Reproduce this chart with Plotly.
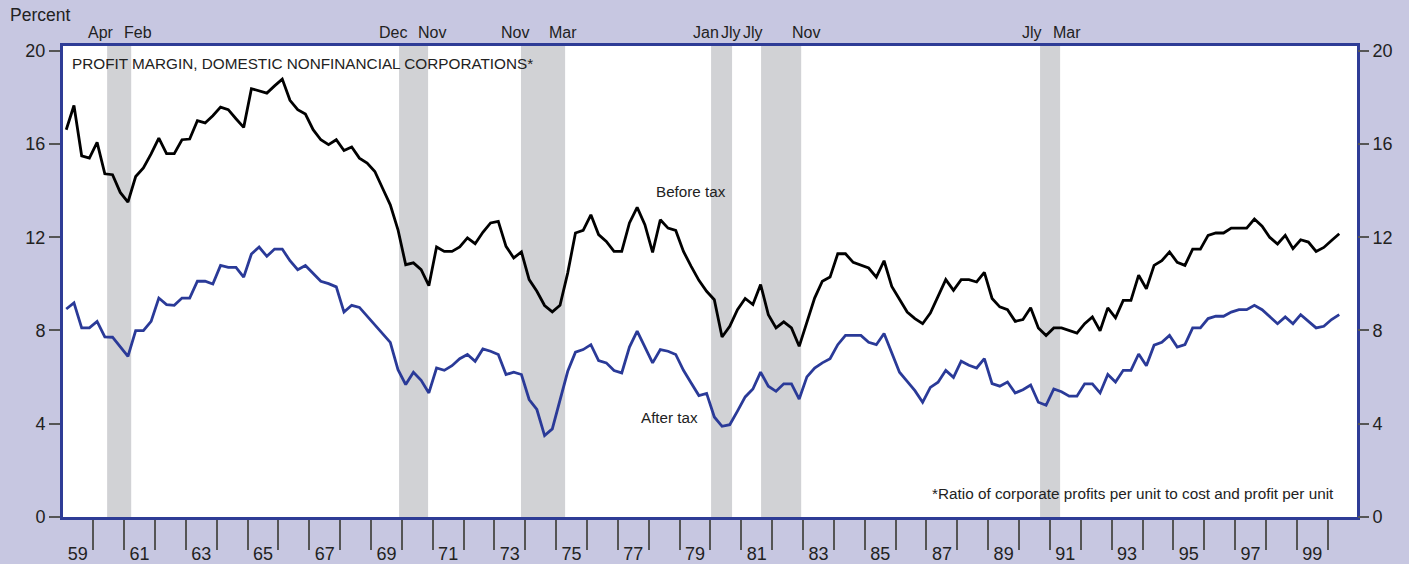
import plotly.graph_objects as go

# ---------------- data (quarterly, 1959Q1 - 2000Q2) ----------------
start_year = 1959
before_tax = [
    16.61, 17.65, 15.49, 15.39, 16.07, 14.72, 14.68, 13.92, 13.50, 14.60,
    14.97, 15.57, 16.25, 15.58, 15.58, 16.18, 16.21, 17.00, 16.90, 17.21,
    17.58, 17.47, 17.08, 16.71, 18.37, 18.29, 18.18, 18.49, 18.78, 17.87,
    17.47, 17.28, 16.61, 16.18, 15.97, 16.18, 15.72, 15.87, 15.39, 15.18,
    14.82, 14.10, 13.39, 12.32, 10.82, 10.90, 10.61, 9.92, 11.58, 11.39,
    11.39, 11.58, 11.97, 11.72, 12.21, 12.61, 12.68, 11.61, 11.11, 11.37,
    10.18, 9.68, 9.07, 8.80, 9.08, 10.47, 12.18, 12.29, 12.96, 12.11,
    11.82, 11.39, 11.39, 12.61, 13.28, 12.54, 11.35, 12.75, 12.39, 12.29,
    11.39, 10.75, 10.15, 9.68, 9.32, 7.72, 8.18, 8.89, 9.37, 9.11,
    9.97, 8.68, 8.11, 8.37, 8.11, 7.32, 8.39, 9.39, 10.11, 10.29,
    11.29, 11.29, 10.92, 10.79, 10.68, 10.29, 10.99, 9.89, 9.32, 8.79,
    8.51, 8.29, 8.75, 9.44, 10.18, 9.72, 10.18, 10.18, 10.08, 10.49,
    9.37, 9.01, 8.89, 8.39, 8.47, 8.97, 8.11, 7.78, 8.11, 8.11,
    8.01, 7.89, 8.29, 8.58, 7.99, 8.97, 8.54, 9.29, 9.29, 10.37,
    9.79, 10.79, 10.99, 11.37, 10.92, 10.79, 11.49, 11.49, 12.08, 12.18,
    12.18, 12.39, 12.39, 12.39, 12.78, 12.47, 11.99, 11.71, 12.08, 11.51,
    11.89, 11.79, 11.39, 11.56, 11.86, 12.15,
]
after_tax = [
    8.92, 9.18, 8.11, 8.11, 8.39, 7.72, 7.71, 7.29, 6.89, 7.99,
    7.99, 8.39, 9.39, 9.11, 9.08, 9.39, 9.39, 10.11, 10.11, 9.99,
    10.79, 10.71, 10.71, 10.29, 11.28, 11.58, 11.18, 11.49, 11.49, 10.99,
    10.61, 10.79, 10.47, 10.11, 10.01, 9.87, 8.79, 9.08, 8.99, 8.61,
    8.25, 7.87, 7.49, 6.32, 5.68, 6.21, 5.86, 5.32, 6.39, 6.29,
    6.49, 6.79, 6.97, 6.68, 7.21, 7.11, 6.97, 6.11, 6.21, 6.11,
    5.04, 4.61, 3.49, 3.78, 5.04, 6.25, 7.07, 7.18, 7.39, 6.71,
    6.61, 6.28, 6.18, 7.29, 7.97, 7.32, 6.61, 7.18, 7.11, 6.97,
    6.29, 5.75, 5.21, 5.30, 4.29, 3.89, 3.96, 4.54, 5.15, 5.49,
    6.21, 5.61, 5.39, 5.71, 5.71, 5.06, 6.01, 6.39, 6.61, 6.79,
    7.39, 7.79, 7.79, 7.79, 7.49, 7.39, 7.87, 7.01, 6.21, 5.82,
    5.42, 4.92, 5.56, 5.78, 6.29, 5.99, 6.68, 6.51, 6.39, 6.79,
    5.72, 5.61, 5.79, 5.32, 5.46, 5.66, 4.92, 4.79, 5.49, 5.37,
    5.18, 5.18, 5.71, 5.71, 5.32, 6.11, 5.79, 6.29, 6.29, 6.99,
    6.49, 7.37, 7.49, 7.79, 7.29, 7.39, 8.11, 8.11, 8.51, 8.61,
    8.61, 8.79, 8.89, 8.89, 9.08, 8.89, 8.61, 8.29, 8.58, 8.29,
    8.68, 8.39, 8.11, 8.18, 8.47, 8.68,
]

# recession shading (decimal years) and their month labels
rec_start = [1960.45, 1969.91, 1973.86, 1980.02, 1981.64, 1990.68]
rec_end = [1961.23, 1970.85, 1975.29, 1980.70, 1982.94, 1991.33]
rec_start_label = ["Apr", "Dec", "Nov", "Jan", "Jly", "Jly"]
rec_end_label = ["Feb", "Nov", "Mar", "Jly", "Nov", "Mar"]
# label centres (decimal years)
rec_start_label_x = [1960.24, 1969.72, 1973.67, 1979.86, 1981.38, 1990.41]
rec_end_label_x = [1961.46, 1970.98, 1975.23, 1980.67, 1983.10, 1991.55]

year_ticks = list(range(1960, 2001))
label_years = list(range(1959, 2000, 2))
label_text = [f"{y % 100:02d}" for y in label_years]
y_ticks = [0, 4, 8, 12, 16, 20]

# ---------------- styling ----------------
BG = "#C7C7E1"
BORDER = "#2E3C96"
BLUE = "#2A3A98"
SHADE = "#D1D2D5"
TICK = "#555555"
TXT = "#222222"
FONT = "Liberation Sans, Arial, sans-serif"

x_vals = [start_year + (i + 0.5) / 4 for i in range(len(before_tax))]

fig = go.Figure()
fig.add_trace(go.Scatter(x=x_vals, y=before_tax, mode="lines",
                         line=dict(color="black", width=2.8),
                         hoverinfo="skip", showlegend=False))
fig.add_trace(go.Scatter(x=x_vals, y=after_tax, mode="lines",
                         line=dict(color=BLUE, width=2.8),
                         hoverinfo="skip", showlegend=False))
# invisible trace to activate the right-hand axis
fig.add_trace(go.Scatter(x=[x_vals[0]], y=[before_tax[0]], yaxis="y2", mode="lines",
                         line=dict(width=0), hoverinfo="skip", showlegend=False))

shapes = []
for s, e in zip(rec_start, rec_end):
    shapes.append(dict(type="rect", xref="x", yref="paper", x0=s, x1=e, y0=0, y1=1,
                       fillcolor=SHADE, line=dict(width=0), layer="below"))

annotations = []
for lx, lt in list(zip(rec_start_label_x, rec_start_label)) + list(zip(rec_end_label_x, rec_end_label)):
    annotations.append(dict(x=lx, y=1, xref="x", yref="paper", text=lt, showarrow=False,
                            xanchor="center", yanchor="middle", yshift=14,
                            font=dict(family=FONT, size=16, color=TXT)))
annotations.append(dict(x=0, y=1, xref="paper", yref="paper", text="Percent", showarrow=False,
                        xanchor="left", yanchor="middle", xshift=-55, yshift=31,
                        font=dict(family=FONT, size=17.5, color=TXT)))
annotations.append(dict(x=0, y=1, xref="paper", yref="paper",
                        text="PROFIT MARGIN, DOMESTIC NONFINANCIAL CORPORATIONS*",
                        showarrow=False, xanchor="left", yanchor="middle", xshift=7, yshift=-17,
                        font=dict(family=FONT, size=15.3, color=TXT)))
annotations.append(dict(x=0, y=0, xref="paper", yref="paper",
                        text="*Ratio of corporate profits per unit to cost and profit per unit",
                        showarrow=False, xanchor="left", yanchor="middle", xshift=867, yshift=24,
                        font=dict(family=FONT, size=15.3, color=TXT)))
annotations.append(dict(x=0, y=1, xref="paper", yref="paper", text="Before tax", showarrow=False,
                        xanchor="left", yanchor="middle", xshift=591, yshift=-145,
                        font=dict(family=FONT, size=15.2, color=TXT)))
annotations.append(dict(x=0, y=1, xref="paper", yref="paper", text="After tax", showarrow=False,
                        xanchor="left", yanchor="middle", xshift=576, yshift=-371,
                        font=dict(family=FONT, size=15.2, color=TXT)))

axis_font = dict(family=FONT, size=18, color=TXT)
fig.update_layout(
    width=1409, height=564,
    margin=dict(l=63, r=52, t=46, b=47, autoexpand=False),
    paper_bgcolor=BG, plot_bgcolor="white",
    showlegend=False,
    shapes=shapes, annotations=annotations,
    xaxis=dict(range=[1959.02, 2000.95], showgrid=False, zeroline=False, automargin=False,
               showline=True, linecolor=BORDER, linewidth=3, mirror=True,
               tickmode="array", tickvals=[y + 0.5 for y in label_years], ticktext=label_text,
               ticks="outside", ticklen=18, tickcolor="rgba(0,0,0,0)",
               tickfont=axis_font,
               minor=dict(tickmode="array", tickvals=year_ticks, ticks="outside",
                          ticklen=30, tickwidth=1.5, tickcolor=TICK, showgrid=False)),
    yaxis=dict(range=[0, 20.2], showgrid=False, zeroline=False, automargin=False,
               showline=True, linecolor=BORDER, linewidth=3, mirror=True,
               tickmode="array", tickvals=y_ticks, ticks="outside", ticklen=11,
               tickwidth=1.5, tickcolor=TICK, tickfont=axis_font),
    yaxis2=dict(range=[0, 20.2], overlaying="y", side="right", showgrid=False,
                zeroline=False, showline=False, automargin=False,
                tickmode="array", tickvals=y_ticks, ticks="outside", ticklen=11,
                tickwidth=1.5, tickcolor=TICK, tickfont=axis_font),
)

fig.write_html("out.html", config={"displayModeBar": False},
               post_script="document.body.style.margin='0';document.body.style.overflow='hidden';")
